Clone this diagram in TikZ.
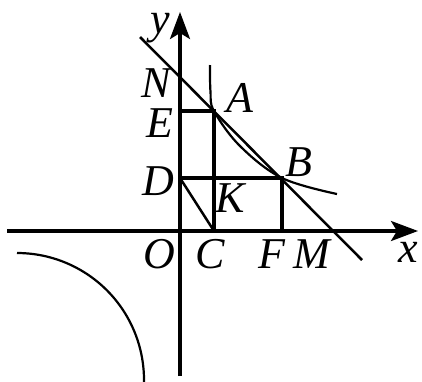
\documentclass[tikz,border=0pt]{standalone}
\usepackage{fontspec}
\setmainfont{Liberation Serif}
\usetikzlibrary{arrows.meta}
\begin{document}
\begin{tikzpicture}[x=1pt,y=-1pt,
  axis/.style={line width=3.3pt,-{Stealth[length=27pt,width=20pt,inset=6pt]}},
  thick rect/.style={line width=4pt},
  thin line/.style={line width=2.5pt},
  curve/.style={line width=2.2pt},
  lbl/.style={inner sep=0pt,font=\fontsize{44}{44}\selectfont\itshape}]
\useasboundingbox (0,0) rectangle (422,381);
% points
\coordinate (O) at (180,231);
\coordinate (C) at (214,231);
\coordinate (F) at (282,231);
\coordinate (M) at (334,231);
\coordinate (N) at (180,77);
\coordinate (E) at (180,111);
\coordinate (A) at (214,111);
\coordinate (D) at (180,178);
\coordinate (B) at (282,178);
\coordinate (K) at (214,178);
\coordinate (xl) at (7,231);
\coordinate (xr) at (418,231);
\coordinate (yb) at (180,376);
\coordinate (yt) at (180,12);
\coordinate (ls) at (140,37);
\coordinate (le) at (362,260);
\coordinate (hs) at (17,253);
% axes
\draw[axis] (xl) -- (xr);
\draw[axis] (yb) -- (yt);
% rectangles
\draw[thick rect] (E) -- (A) -- (C);
\draw[thick rect] (D) -- (B) -- (F);
\draw[thin line] (D) -- (C);
% line NM
\draw[thin line] (ls) -- (le);
% hyperbola branches
\draw[curve] plot[smooth,tension=0.6] coordinates {(210,65) (210.5,92) (214,111) (240,146) (282,178) (337,194)};
\draw[curve] (hs) arc[start angle=-90,end angle=2,radius=127];
% labels
\node[lbl] (ly) at (160,28) {y};
\node[lbl] (lN) at (156,83) {N};
\node[lbl] (lE) at (160,123) {E};
\node[lbl] (lA) at (240,98) {A};
\node[lbl] (lD) at (158,181) {D};
\node[lbl] (lB) at (299,162) {B};
\node[lbl] (lK) at (230,198) {K};
\node[lbl] (lO) at (159,254) {O};
\node[lbl] (lC) at (210,254) {C};
\node[lbl] (lF) at (272,254) {F};
\node[lbl] (lM) at (312,254) {M};
\node[lbl] (lx) at (408,252) {x};
\end{tikzpicture}
\end{document}
